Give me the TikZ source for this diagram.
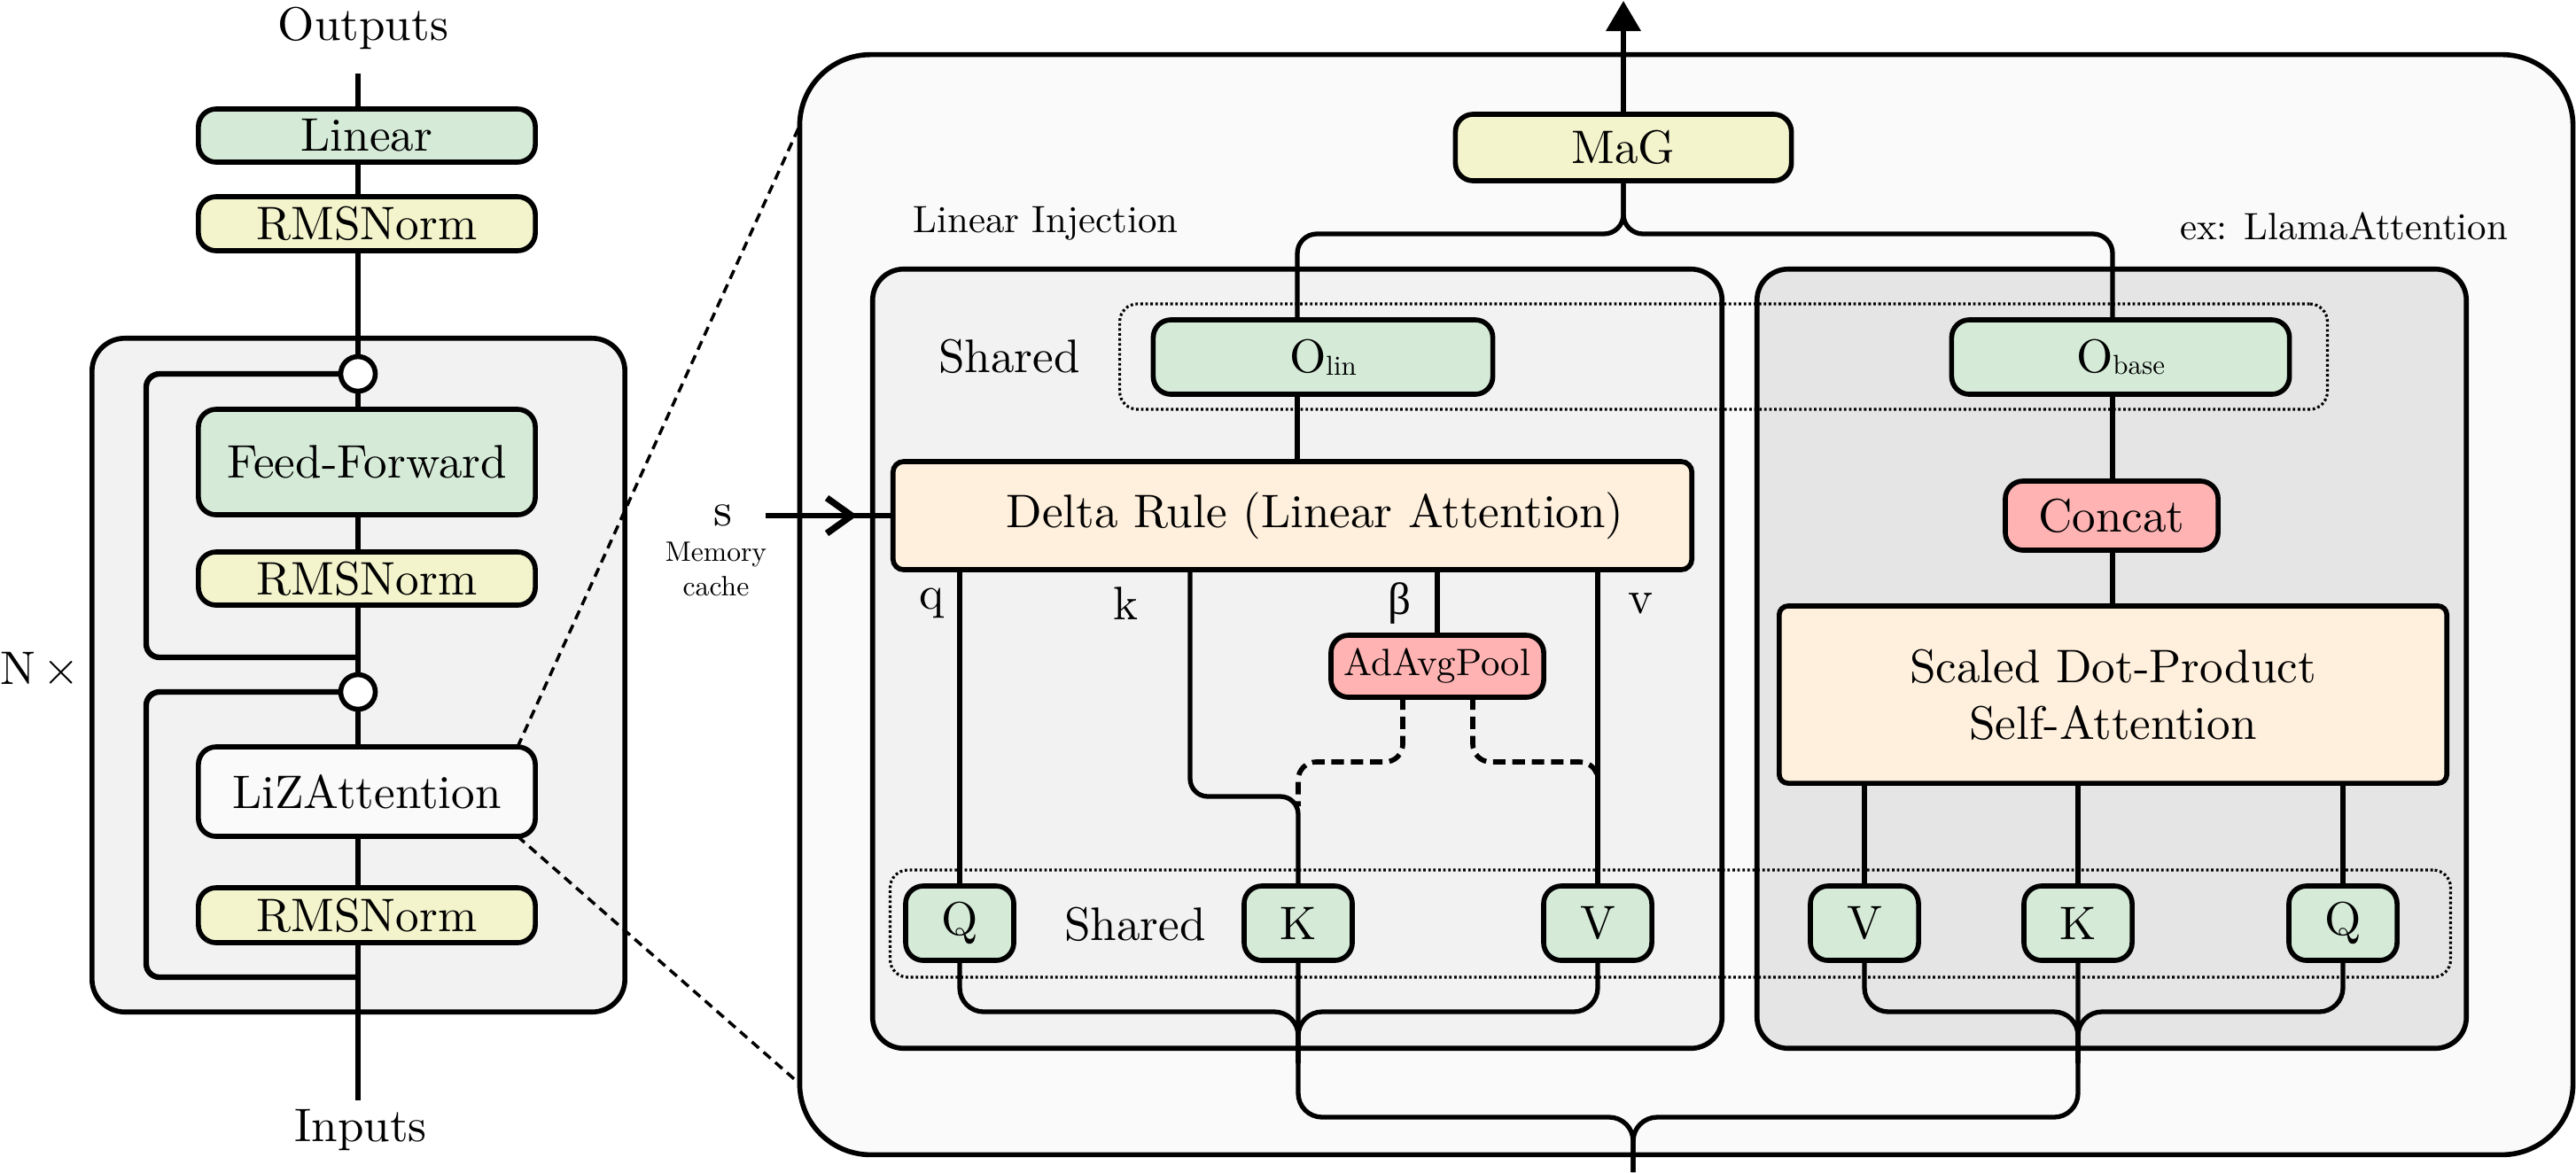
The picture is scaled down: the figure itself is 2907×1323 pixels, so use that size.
\RequirePackage{fix-cm}
\documentclass[tikz,border=0pt]{standalone}
\usepackage{fontspec}
\setmainfont{lmroman10-regular.otf}[ItalicFont=lmroman10-italic.otf, BoldFont=lmroman10-bold.otf]
\newfontfamily\grkfont{Liberation Serif}
\usetikzlibrary{arrows.meta,decorations.markings}
\definecolor{cgreen}{HTML}{D5EBD8}
\definecolor{cyellow}{HTML}{F3F4CC}
\definecolor{cpeach}{HTML}{FFF0DD}
\definecolor{cpink}{HTML}{FFB3B3}
\definecolor{cgrayA}{HTML}{FAFAFA}
\definecolor{cgrayB}{HTML}{F2F2F2}
\definecolor{cgrayC}{HTML}{E5E5E5}
\newcommand{\fbig}{\fontsize{15.1}{18}\selectfont}
\newcommand{\fmid}{\fontsize{12.2}{14.6}\selectfont}
\newcommand{\fsml}{\fontsize{9}{11}\selectfont}
\newcommand{\fsub}{\fontsize{8.8}{10}\selectfont}
\tikzset{
  every node/.style={inner sep=0pt, outer sep=0pt},
  txt/.style={font=\fbig},
  bx/.style={draw, line width=1.6pt, rounded corners=0.2cm, font=\fbig, align=center},
  gbox/.style={bx, fill=cgreen},
  ybox/.style={bx, fill=cyellow},
  obox/.style={bx, fill=cpeach, rounded corners=0.12cm},
  rbox/.style={bx, fill=cpink},
  cont/.style={draw, line width=1.6pt},
  dotbox/.style={draw, line width=0.9pt, dash pattern=on 0.8pt off 0.8pt, rounded corners=0.2cm},
  conn/.style={line width=1.5pt},
  lconn/.style={line width=1.8pt},
  dconn/.style={line width=1.6pt, dash pattern=on 4pt off 2.2pt},
  zoomln/.style={line width=1pt, dash pattern=on 3pt off 2pt},
  circ/.style={circle, draw, line width=1.6pt, fill=white, minimum size=0.39cm},
}
\begin{document}
\begin{tikzpicture}[x=0.01cm,y=-0.01cm]
\useasboundingbox (0,0) rectangle (2907,1323);

% ---------------- left column ----------------
\node[cont, fill=cgrayB, rounded corners=0.37cm, minimum width=6.01cm, minimum height=7.6cm] (nbox) at (404.5,762) {};
\node[gbox, minimum width=3.8cm, minimum height=0.6cm] (lin) at (414,153) {Linear};
\node[ybox, minimum width=3.8cm, minimum height=0.61cm] (rms1) at (414,252.5) {RMSNorm};
\node[circ] (c1) at (404,422) {};
\node[gbox, minimum width=3.8cm, minimum height=1.19cm] (ff) at (414,521.5) {Feed-Forward};
\node[ybox, minimum width=3.8cm, minimum height=0.6cm] (rms2) at (414,653) {RMSNorm};
\node[circ] (c2) at (404,781) {};
\node[bx, fill=cgrayA, minimum width=3.8cm, minimum height=1.01cm] (liz) at (414,893.5) {LiZAttention};
\node[ybox, minimum width=3.8cm, minimum height=0.62cm] (rms3) at (414,1033) {RMSNorm};

\node[txt] (outputs) at (410,32) {Outputs};
\node[txt] (inputs) at (407,1275) {Inputs};
\node[txt, anchor=west] (nx) at (0,757) {N\,$\times$};

\coordinate (inp) at (404,1242);
\coordinate (outp) at (404,83);
\draw[lconn] (inp) -- (inp |- rms3.south);
\draw[lconn] (inp |- rms3.north) -- (inp |- liz.south);
\draw[lconn] (inp |- liz.north) -- (c2.south);
\draw[lconn] (c2.north) -- (inp |- rms2.south);
\draw[lconn] (inp |- rms2.north) -- (inp |- ff.south);
\draw[lconn] (inp |- ff.north) -- (c1.south);
\draw[lconn] (c1.north) -- (inp |- rms1.south);
\draw[lconn] (inp |- rms1.north) -- (inp |- lin.south);
\draw[lconn] (inp |- lin.north) -- (outp);
\draw[lconn, rounded corners=0.15cm] (c1.west) -- (165,422) -- (165,742) -- (404,742);
\draw[lconn, rounded corners=0.15cm] (c2.west) -- (165,781) -- (165,1103) -- (404,1103);

% ---------------- big box ----------------
\node[cont, fill=cgrayA, rounded corners=0.8cm, minimum width=20cm, minimum height=12.41cm] (bigbox) at (1903,682.5) {};
\draw[zoomln] ([xshift=-0.2cm]liz.north east) -- ([yshift=-0.8cm]bigbox.north west);
\draw[zoomln] ([xshift=-0.2cm]liz.south east) -- ([yshift=0.8cm]bigbox.south west);

\node[cont, fill=cgrayB, rounded corners=0.35cm, minimum width=9.58cm, minimum height=8.79cm] (linj) at (1464,743.5) {};
\node[cont, fill=cgrayC, rounded corners=0.35cm, minimum width=8cm, minimum height=8.79cm] (llama) at (2383,743.5) {};
\node[dotbox, minimum width=13.62cm, minimum height=1.19cm] (shtop) at (1945,402.5) {};
\node[dotbox, minimum width=17.6cm, minimum height=1.21cm] (shbot) at (1885,1042.5) {};

\node[font=\fmid] (linjlbl) at (1180,252) {Linear Injection};
\node[font=\fmid] (llamalbl) at (2645,255) {ex: LlamaAttention};
\node[txt] (shared1) at (1139,402) {Shared};
\node[txt] (shared2) at (1281,1043) {Shared};

\node[ybox, minimum width=3.79cm, minimum height=0.75cm] (mag) at (1832,166.5) {MaG};
\node[gbox, minimum width=3.83cm, minimum height=0.84cm] (olin) at (1493,403) {O\raisebox{-0.8pt}{\fsub lin}};
\node[gbox, minimum width=3.81cm, minimum height=0.84cm] (obase) at (2393,403) {O\raisebox{-0.8pt}{\fsub base}};
\node[obox, minimum width=9.01cm, minimum height=1.22cm] (delta) at (1458.5,582) {};
\node[txt] (deltatxt) at (1484,582) {Delta Rule (Linear Attention)};
\node[rbox, font=\fmid, minimum width=2.4cm, minimum height=0.7cm] (adavg) at (1622,752) {AdAvgPool};
\node[rbox, minimum width=2.4cm, minimum height=0.78cm] (concat) at (2383,582) {Concat};
\node[obox, rounded corners=0.1cm, minimum width=7.53cm, minimum height=2cm, font=\fontsize{15.1}{18.2}\selectfont] (sdpa) at (2384.5,784) {Scaled Dot-Product\\Self-Attention};

\node[gbox, minimum width=1.22cm, minimum height=0.84cm] (Q1) at (1083,1042) {Q};
\node[gbox, minimum width=1.22cm, minimum height=0.84cm] (K1) at (1465,1042) {K};
\node[gbox, minimum width=1.22cm, minimum height=0.84cm] (V1) at (1803,1042) {V};
\node[gbox, minimum width=1.22cm, minimum height=0.84cm] (V2) at (2104,1042) {V};
\node[gbox, minimum width=1.22cm, minimum height=0.84cm] (K2) at (2345,1042) {K};
\node[gbox, minimum width=1.22cm, minimum height=0.84cm] (Q2) at (2644,1042) {Q};

\node[txt] (ql) at (1052,681) {q};
\node[txt] (kl) at (1270,681) {k};
\node[font=\fontsize{14.5}{17}\grkfont] (bl) at (1579,681) {β};
\node[txt] (vl) at (1851,681) {v};

\node[txt] (sl) at (816,582) {s};
\node[font=\fsml, align=center] (memlbl) at (808,642) {Memory\\cache};

% ---------------- connectors ----------------
\coordinate (top) at (1832,1);
\coordinate (lx) at (1464,0);
\coordinate (rx) at (2384,0);
\coordinate (kx) at (1343,0);
\coordinate (dl) at (1583,0);
\coordinate (dr) at (1662,0);
\coordinate (bot) at (1843,1323);
\coordinate (sst) at (864,582);

\draw[conn, -{Triangle[length=9.7pt,width=11pt]}] (mag.north) -- (top);
\draw[conn, rounded corners=0.22cm] (olin.north -| lx) |- (1832,264) -- (mag.south);
\draw[conn, rounded corners=0.22cm] (obase.north -| rx) |- (1832,264) -- (mag.south);
\draw[conn] (olin.south -| lx) -- (delta.north -| lx);
\draw[conn] (obase.south -| rx) -- (concat.north -| rx);
\draw[conn] (concat.south -| rx) -- (sdpa.north -| rx);

\draw[conn, line width=1.7pt, postaction={decorate}, decoration={markings, mark=at position 0.97cm with {\draw[line width=2.1pt, line join=miter] (-0.28cm,0.2cm) -- (0,0) -- (-0.28cm,-0.2cm);}}] (sst) -- (delta.west);

\draw[conn] (delta.south -| Q1) -- (Q1.north);
\draw[conn, rounded corners=0.2cm] (delta.south -| kx) -- (1343,899) -- (1465,899) -- (K1.north);
\draw[conn] (delta.south -| adavg) -- (adavg.north);
\draw[conn] (delta.south -| V1) -- (V1.north);
\draw[dconn, rounded corners=0.2cm] (adavg.south -| dl) -- (1583,860) -- (1465,860) -- (1465,910);
\draw[dconn, rounded corners=0.2cm] (adavg.south -| dr) -- (1662,860) -- (1803,860) -- (1803,895);

\draw[conn, rounded corners=0.27cm] (Q1.south) |- (1465,1142) -- (1465,1200);
\draw[conn, rounded corners=0.27cm] (V1.south) |- (1465,1142) -- (1465,1200);
\draw[conn, rounded corners=0.27cm] (K1.south) -- (1465,1261) -- (1843,1261) -- (bot);
\draw[conn, rounded corners=0.27cm] (V2.south) |- (2345,1142) -- (2345,1200);
\draw[conn, rounded corners=0.27cm] (Q2.south) |- (2345,1142) -- (2345,1200);
\draw[conn, rounded corners=0.27cm] (K2.south) -- (2345,1261) -- (1843,1261) -- (bot);
\draw[conn] (sdpa.south -| V2) -- (V2.north);
\draw[conn] (sdpa.south -| K2) -- (K2.north);
\draw[conn] (sdpa.south -| Q2) -- (Q2.north);
\end{tikzpicture}
\end{document}
